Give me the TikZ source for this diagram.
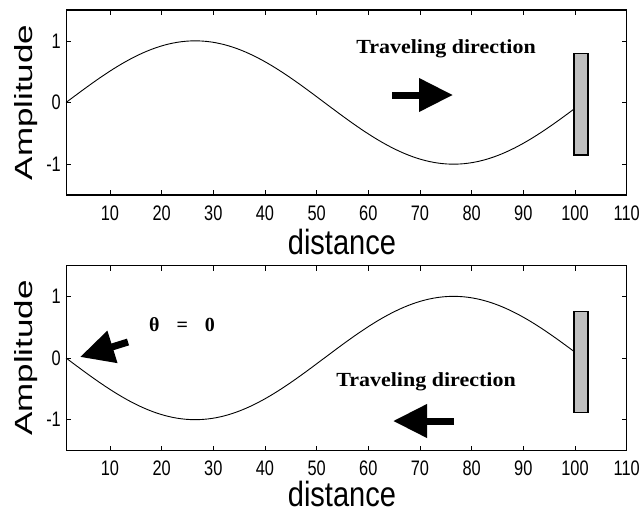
\documentclass[tikz,border=0pt]{standalone}
\usepackage{fontspec}
\setmainfont{Liberation Sans}
\newfontfamily\annfont{Liberation Serif}
\usetikzlibrary{arrows.meta}

\tikzset{
  axisbox/.style={line width=1.1pt},
  wave/.style={line width=0.9pt},
  ticklbl/.style={inner sep=0pt, font=\fontsize{21}{21}\selectfont},
  axislbl/.style={inner sep=0pt, font=\fontsize{35}{35}\selectfont},
  bigarrow/.style={line width=7pt, -{Triangle[length=34pt,width=32pt]}},
  reflector/.style={draw, line width=1.2pt, fill=black!25},
  note/.style={inner sep=0pt, anchor=base, font=\annfont\bfseries\fontsize{20}{20}\selectfont},
}

\begin{document}
\begin{tikzpicture}[x=1pt, y=-1pt]
    \useasboundingbox (0,0) rectangle (642,512);

    % Draw both plots
    \foreach \yc/\sgn/\bt/\bb/\dd/\nm in {102.5/1/0.79/-0.85/47/top, 358/-1/0.75/-0.89/43/bot} {
      \begin{scope}[shift={(58.3,\yc)}, x=5.167pt, y=61.67pt]
        \draw[axisbox] (1.5,-1.5) rectangle (110,1.5);
        \foreach \t in {10,20,...,100} {
          \draw (\t,-1.5) -- ++(0,5pt);
          \draw (\t,1.5) -- ++(0,-5pt);
        }
        \foreach \t in {10,20,...,110}
          \node[ticklbl] (xl-\nm-\t) at ([yshift=-18pt]\t,-1.5) {\scalebox{0.78}[1]{\t}};
        \foreach \v in {-1,0,1} {
          \draw (1.5,\v) -- ++(5pt,0);
          \draw (110,\v) -- ++(-5pt,0);
          \node[ticklbl, anchor=east] (yl-\nm-\v) at ([xshift=-5pt]1.5,\v) {\scalebox{0.78}[1]{\v}};
        }
        % Wave and reflector
        \draw[wave] plot[domain=1.5:100, samples=120] (\x, {\sgn*sin(3.6*(\x-1.5))});
        \draw[reflector] (99.8,\bb) rectangle (102.5,\bt);
        % Axis labels
        \node[axislbl, rotate=90] (amp-\nm) at ([xshift=-39.5pt]1.5,0) {\scalebox{1}[0.71]{Amplitude}};
        \node[axislbl] (dist-\nm) at ([yshift=-\dd pt]54.9,-1.5) {\scalebox{0.83}[1]{distance}};
      \end{scope}
    }

    % Annotations
    \node[note] (dirtop) at (446,53) {\scalebox{1.1}[1]{Traveling direction}};
    \node[note] (dirbot) at (426,386) {\scalebox{1.1}[1]{Traveling direction}};
    \node[note] (theta) at (182,331) {θ\hspace{17pt}=\hspace{17pt}0};

    % Arrows
    \coordinate (toptail) at (392,95);
    \coordinate (toptip) at (453,95);
    \coordinate (bottail) at (454,421);
    \coordinate (bottip) at (393,421);
    \coordinate (thetatail) at (128,342);
    \coordinate (thetatip) at (80,357);
    \draw[bigarrow] (toptail) -- (toptip);
    \draw[bigarrow] (bottail) -- (bottip);
    \draw[bigarrow] (thetatail) -- (thetatip);
\end{tikzpicture}
\end{document}
